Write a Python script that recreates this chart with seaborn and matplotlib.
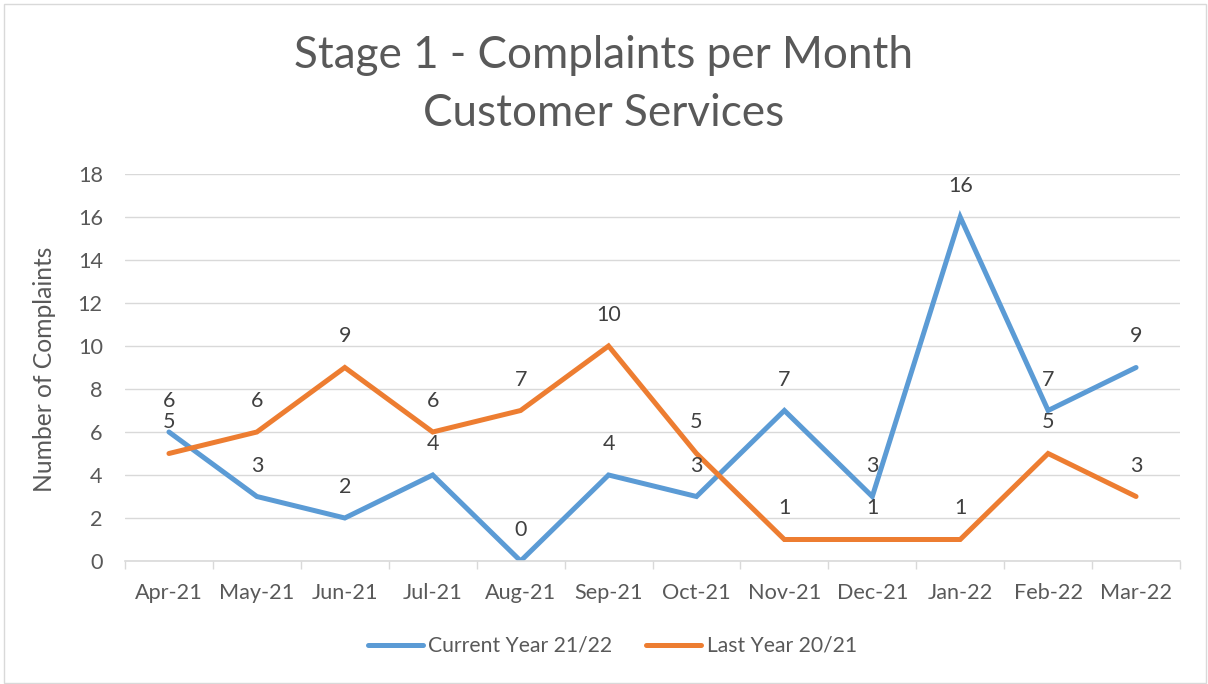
import numpy as np
import pandas as pd
import matplotlib
matplotlib.use("Agg")
import matplotlib.pyplot as plt
import seaborn as sns

months = ["Apr-21", "May-21", "Jun-21", "Jul-21", "Aug-21", "Sep-21",
          "Oct-21", "Nov-21", "Dec-21", "Jan-22", "Feb-22", "Mar-22"]
current_year = [6, 3, 2, 4, 0, 4, 3, 7, 3, 16, 7, 9]
last_year = [5, 6, 9, 6, 7, 10, 5, 1, 1, 1, 5, 3]
series_names = ["Current Year 21/22", "Last Year 20/21"]
colors = ["#5B9BD5", "#ED7D31"]

TEXT = "#595959"
GRID = "#D9D9D9"

df = pd.DataFrame({
    "month": months * 2,
    "pos": list(range(len(months))) * 2,
    "value": current_year + last_year,
    "series": [series_names[0]] * len(months) + [series_names[1]] * len(months),
})

sns.set_theme(style="white")
plt.rcParams["font.family"] = ["Lato", "DejaVu Sans"]

W, H = 1208, 684
fig = plt.figure(figsize=(W / 100, H / 100), dpi=100)
ax = fig.add_axes([125 / W, 1 - 561 / H, (1180 - 125) / W, (561 - 174) / H])

sns.lineplot(data=df, x="pos", y="value", hue="series", palette=colors,
             hue_order=series_names, linewidth=3.6, ax=ax, legend=False,
             solid_capstyle="round", solid_joinstyle="miter", estimator=None)

# data labels above each point
for name, vals, col in zip(series_names, [current_year, last_year], colors):
    for i, v in enumerate(vals):
        ax.annotate(str(v), (i, v), xytext=(0, 31), textcoords="offset pixels",
                    ha="center", va="center", fontsize=15.5, color="#404040")

ax.set_xlim(-0.5, len(months) - 0.5)
ax.set_ylim(0, 18)
ax.set_yticks(np.arange(0, 19, 2))
ax.set_xticks(range(len(months)))
ax.set_xticklabels(months)
ax.set_xticks(np.arange(-0.5, len(months), 1), minor=True)
ax.tick_params(axis="x", which="major", length=0, pad=16, labelsize=15.6, labelcolor=TEXT)
ax.tick_params(axis="x", which="minor", length=6, width=1, color=GRID, bottom=True)
ax.tick_params(axis="y", length=0, pad=16, labelsize=15.6, labelcolor=TEXT)
ax.grid(axis="y", color=GRID, linewidth=1)
ax.set_axisbelow(True)
for s in ["top", "right", "left"]:
    ax.spines[s].set_visible(False)
ax.spines["bottom"].set_color(GRID)
ax.spines["bottom"].set_linewidth(1.2)
ax.set_xlabel("")
ax.set_ylabel("Number of Complaints", fontsize=17.7, color=TEXT)
ax.yaxis.set_label_coords(56 / W, 1 - 369 / H, transform=fig.transFigure)

fig.text(0.5, 1 - 55 / H, "Stage 1 - Complaints per Month", ha="center", va="center",
         fontsize=31.7, color=TEXT)
fig.text(0.5, 1 - 113 / H, "Customer Services", ha="center", va="center",
         fontsize=31.7, color=TEXT)

handles = [plt.Line2D([], [], color=c, lw=3.6, solid_capstyle="round") for c in colors]
fig.legend(handles, series_names, loc="center", bbox_to_anchor=(0.507, 1 - 646 / H),
           ncol=2, frameon=False, fontsize=15.2, labelcolor=TEXT, handlelength=2.6,
           handletextpad=0.25, columnspacing=1.6)

# chart border
fig.add_artist(plt.Rectangle((4 / W, 1 / H), (W - 6) / W, (H - 5) / H,
                             transform=fig.transFigure, fill=False,
                             edgecolor=GRID, linewidth=1))

fig.savefig("out.png", dpi=100)
